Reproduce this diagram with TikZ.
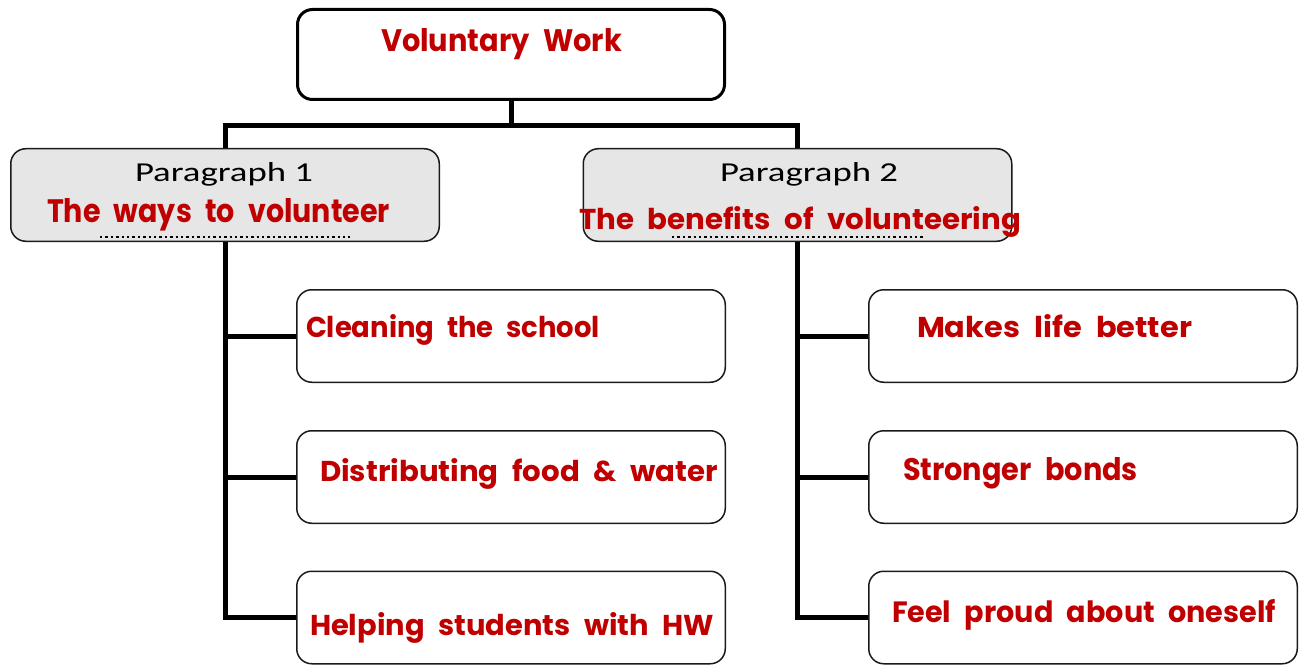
\documentclass[tikz,border=0pt]{standalone}
\usepackage{fontspec}
\usepackage{graphicx}
\usetikzlibrary{backgrounds}
\newfontfamily\redfont{Poppins}[WordSpace=2.2]
\newfontfamily\parafont{Carlito}
\definecolor{redtxt}{HTML}{C00000}
\definecolor{parafill}{HTML}{E6E6E6}
\definecolor{boxline}{HTML}{1A1A1A}
\newcommand\fitbox[3]{\resizebox{#1pt}{#2pt}{#3}}
\tikzset{
  topbox/.style={draw=black, line width=3pt, fill=white, rounded corners=15pt, inner sep=0pt, outer sep=0pt, minimum width=427pt, minimum height=90pt},
  parabox/.style={draw=boxline, line width=1.5pt, fill=parafill, rounded corners=15pt, inner sep=0pt, outer sep=0pt, minimum width=428.5pt, minimum height=92.5pt},
  itembox/.style={draw=boxline, line width=1.5pt, fill=white, rounded corners=15pt, inner sep=0pt, outer sep=0pt, minimum width=428.5pt, minimum height=92.5pt},
  conn/.style={draw=black, line width=5pt},
  redtext/.style={anchor=base west, inner sep=0pt, outer sep=0pt, text=redtxt, font=\redfont\bfseries},
  paratext/.style={anchor=base west, inner sep=0pt, outer sep=0pt, text=black, font=\parafont},
  dotline/.style={draw=black, line width=2.8pt, dash pattern=on 2.4pt off 3pt}
}
\begin{document}
\begin{tikzpicture}[x=1pt,y=-1pt]
\useasboundingbox (0,0) rectangle (1301,666);
% boxes
\node[topbox] (top) at (511,54.5) {};
\node[parabox] (p1) at (225,195) {};
\node[parabox] (p2) at (797.5,195) {};
\node[itembox] (l1) at (511,336) {};
\node[itembox] (l2) at (511,477) {};
\node[itembox] (l3) at (511,617.5) {};
\node[itembox] (r1) at (1083,336) {};
\node[itembox] (r2) at (1083,477) {};
\node[itembox] (r3) at (1083,617.5) {};
\coordinate (hub) at (511,126);
% background and connectors
\begin{pgfonlayer}{background}
\fill[white] (0,0) rectangle (1301,666);
\draw[conn] (top.south) -- (hub);
\draw[conn] (p1.north) |- (hub) -| (p2.north);
\draw[conn] (p1.south) |- (l3.west);
\draw[conn] (p1.south |- l1.west) -- (l1.west);
\draw[conn] (p1.south |- l2.west) -- (l2.west);
\draw[conn] (p2.south) |- (r3.west);
\draw[conn] (p2.south |- r1.west) -- (r1.west);
\draw[conn] (p2.south |- r2.west) -- (r2.west);
\end{pgfonlayer}
% dotted underlines
\coordinate (d1a) at (100,237);
\coordinate (d1b) at (350,237);
\coordinate (d2a) at (672,237);
\coordinate (d2b) at (923,237);
\draw[dotline] (d1a) -- (d1b);
\draw[dotline] (d2a) -- (d2b);
% texts
\node[redtext] (tv) at (381,52) {\fitbox{241}{23}{Voluntary Work}};
\node[paratext] (tp1) at (135,182) {\fitbox{178}{19}{Paragraph 1}};
\node[redtext] (tw) at (47,222) {\fitbox{343}{24}{The ways to volunteer}};
\node[paratext] (tp2) at (720,182) {\fitbox{178}{19}{Paragraph 2}};
\node[redtext] (tb) at (579,229) {\fitbox{442}{23}{The benefits of volunteering}};
\node[redtext] (tl1) at (306,337) {\fitbox{294}{23}{Cleaning the school}};
\node[redtext] (tl2) at (320,481) {\fitbox{398}{23}{Distributing food \& water}};
\node[redtext] (tl3) at (310,635) {\fitbox{404}{23}{Helping students with HW}};
\node[redtext] (tr1) at (917,337) {\fitbox{275}{23}{Makes life better}};
\node[redtext] (tr2) at (903,480) {\fitbox{235}{23}{Stronger bonds}};
\node[redtext] (tr3) at (892,622) {\fitbox{384}{23}{Feel proud about oneself}};
\end{tikzpicture}
\end{document}
